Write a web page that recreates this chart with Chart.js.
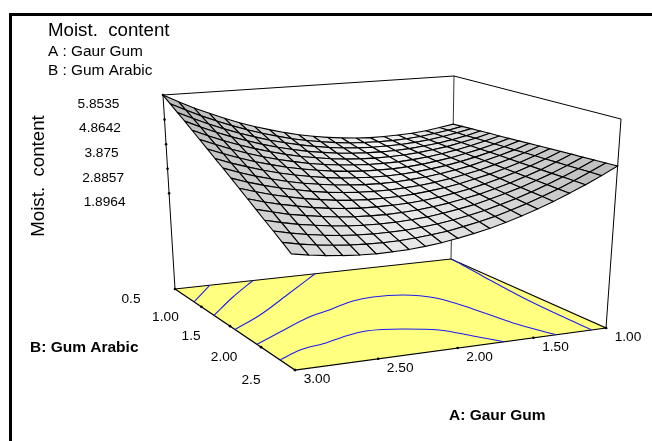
<!DOCTYPE html>
<html>
<head>
<meta charset="utf-8">
<title>Moist. content</title>
<script src="https://cdn.jsdelivr.net/npm/chart.js@4"></script>
<style>
  html, body { margin: 0; padding: 0; background: #fff; }
  #wrap { position: relative; width: 652px; height: 441px; overflow: hidden; }
  #frame { position: absolute; left: 9px; top: 13px; right: -9px; bottom: -9px; border-left: 3px solid #000; border-top: 3px solid #000; }
  canvas { position: absolute; left: 0; top: 0; }
</style>
</head>
<body>
<div id="wrap">
  <canvas id="chart" width="652" height="441"></canvas>
  <div id="frame"></div>
</div>
<script>
// Data
const gaurGum = [3.0, 2.9, 2.8, 2.7, 2.6, 2.5, 2.4, 2.3, 2.2, 2.1, 2.0, 1.9, 1.8, 1.7, 1.6, 1.5, 1.4, 1.3, 1.2, 1.1, 1.0];
const gumArabic = [0.5, 0.625, 0.75, 0.875, 1.0, 1.125, 1.25, 1.375, 1.5, 1.625, 1.75, 1.875, 2.0, 2.125, 2.25, 2.375, 2.5];

const gaurGumTicks = ["3.00", "2.50", "2.00", "1.50", "1.00"];
const gumArabicTicks = ["0.5", "1.00", "1.5", "2.00", "2.5"];
const moistTicks = ["5.8535", "4.8642", "3.875", "2.8857", "1.8964"];

const moistFloor = -1.951;
const moistTop = 5.8535;

// one row per Gaur Gum value, one column per Gum Arabic value
const moistGrid = [
  [5.85,5.61,5.37,5.14,4.90,4.66,4.42,4.18,3.95,3.71,3.47,3.23,2.99,2.75,2.52,2.28,2.04],
  [5.54,5.32,5.09,4.87,4.64,4.42,4.19,3.96,3.74,3.51,3.29,3.06,2.84,2.61,2.39,2.16,1.94],
  [5.25,5.04,4.83,4.62,4.40,4.19,3.98,3.77,3.55,3.34,3.13,2.92,2.70,2.49,2.28,2.07,1.86],
  [4.99,4.79,4.59,4.39,4.19,3.99,3.79,3.59,3.39,3.19,3.00,2.80,2.60,2.40,2.20,2.00,1.80],
  [4.75,4.56,4.37,4.19,4.00,3.81,3.63,3.44,3.25,3.07,2.88,2.69,2.51,2.32,2.13,1.95,1.76],
  [4.52,4.35,4.18,4.00,3.83,3.65,3.48,3.31,3.13,2.96,2.79,2.61,2.44,2.26,2.09,1.92,1.74],
  [4.32,4.16,4.00,3.84,3.68,3.52,3.36,3.20,3.04,2.87,2.71,2.55,2.39,2.23,2.07,1.91,1.75],
  [4.15,4.00,3.85,3.70,3.55,3.40,3.26,3.11,2.96,2.81,2.66,2.51,2.37,2.22,2.07,1.92,1.77],
  [3.99,3.85,3.72,3.58,3.45,3.31,3.18,3.04,2.91,2.77,2.63,2.50,2.36,2.23,2.09,1.96,1.82],
  [3.85,3.73,3.61,3.49,3.36,3.24,3.12,3.00,2.87,2.75,2.63,2.51,2.38,2.26,2.14,2.02,1.89],
  [3.74,3.63,3.52,3.41,3.30,3.19,3.08,2.97,2.86,2.75,2.64,2.53,2.42,2.31,2.20,2.09,1.99],
  [3.65,3.55,3.45,3.36,3.26,3.16,3.07,2.97,2.87,2.78,2.68,2.58,2.49,2.39,2.29,2.20,2.10],
  [3.58,3.49,3.41,3.33,3.24,3.16,3.07,2.99,2.91,2.82,2.74,2.65,2.57,2.49,2.40,2.32,2.23],
  [3.53,3.46,3.39,3.32,3.25,3.17,3.10,3.03,2.96,2.89,2.82,2.75,2.68,2.60,2.53,2.46,2.39],
  [3.50,3.45,3.39,3.33,3.27,3.21,3.15,3.10,3.04,2.98,2.92,2.86,2.80,2.75,2.69,2.63,2.57],
  [3.50,3.45,3.41,3.36,3.32,3.27,3.23,3.18,3.14,3.09,3.05,3.00,2.95,2.91,2.86,2.82,2.77],
  [3.52,3.48,3.45,3.42,3.39,3.35,3.32,3.29,3.25,3.22,3.19,3.16,3.12,3.09,3.06,3.03,2.99],
  [3.55,3.53,3.51,3.49,3.47,3.46,3.44,3.42,3.40,3.38,3.36,3.34,3.32,3.30,3.28,3.26,3.24],
  [3.61,3.61,3.60,3.59,3.59,3.58,3.57,3.57,3.56,3.55,3.54,3.54,3.53,3.52,3.52,3.51,3.50],
  [3.70,3.70,3.71,3.71,3.72,3.73,3.73,3.74,3.74,3.75,3.76,3.76,3.77,3.77,3.78,3.79,3.79],
  [3.80,3.82,3.84,3.86,3.88,3.89,3.91,3.93,3.95,3.97,3.99,4.01,4.03,4.04,4.06,4.08,4.10]
];

// contour lines on the floor, [Gaur Gum, Gum Arabic]
const contourA = [[3.0, 0.864], [2.764, 0.5]];
const contourB = [[3.0, 1.224], [2.738, 0.853], [2.466, 0.5]];
const contourC = [[3.0, 1.583], [2.746, 1.337], [2.411, 0.951], [2.024, 0.5]];
const contourD = [[3.0, 1.936], [2.782, 1.748], [2.516, 1.524], [2.346, 1.422], [2.095, 1.269], [1.939, 1.231], [1.744, 1.266], [1.59, 1.426], [1.507, 1.767], [1.445, 2.161], [1.346, 2.5]];
const contourE = [[3.0, 2.284], [2.823, 2.149], [2.633, 2.08], [2.469, 1.993], [2.318, 1.945], [2.102, 1.999], [1.919, 2.11], [1.8, 2.313], [1.696, 2.5]];
const contourF = [[1.0, 0.52], [1.01, 0.67], [1.04, 1.03], [1.09, 1.74], [1.1, 2.2], [1.1, 2.5]];

// Camera: where the corners of the box land on the page
const floorCorners = [[175, 289], [451, 259], [606, 328], [295, 370]];
const topCorners = [[163, 95], [454, 76], [621, 119], [288, 143]];

function homography(q) {
  const dx1 = q[1][0] - q[2][0], dx2 = q[3][0] - q[2][0], dx3 = q[0][0] - q[1][0] + q[2][0] - q[3][0];
  const dy1 = q[1][1] - q[2][1], dy2 = q[3][1] - q[2][1], dy3 = q[0][1] - q[1][1] + q[2][1] - q[3][1];
  const den = dx1 * dy2 - dx2 * dy1;
  const g = (dx3 * dy2 - dx2 * dy3) / den;
  const h = (dx1 * dy3 - dx3 * dy1) / den;
  return (s, t) => {
    const w = g * s + h * t + 1;
    return [
      ((q[1][0] - q[0][0] + g * q[1][0]) * s + (q[3][0] - q[0][0] + h * q[3][0]) * t + q[0][0]) / w,
      ((q[1][1] - q[0][1] + g * q[1][1]) * s + (q[3][1] - q[0][1] + h * q[3][1]) * t + q[0][1]) / w,
    ];
  };
}
const floorMap = homography(floorCorners);
const topMap = homography(topCorners);

// Gaur Gum, Gum Arabic, moisture -> page point
function project(a, b, z) {
  const s = (3 - a) / 2;
  const t = (b - 0.5) / 2;
  const w = (z - moistFloor) / (moistTop - moistFloor);
  const f = floorMap(s, t);
  const c = topMap(s, t);
  return { x: f[0] + (c[0] - f[0]) * w, y: f[1] + (c[1] - f[1]) * w };
}

function lineSet(points, color, width, extra) {
  return Object.assign({
    data: points,
    showLine: true,
    borderColor: color,
    borderWidth: width,
    pointRadius: 0,
    fill: false,
    tension: 0,
  }, extra || {});
}

// Gray of a cell from how steep it is
function cellGray(i, j) {
  const perRow = (gaurGum.length - 1) / 2;
  const perCol = (gumArabic.length - 1) / 2;
  const dzds = ((moistGrid[i + 1][j] + moistGrid[i + 1][j + 1]) - (moistGrid[i][j] + moistGrid[i][j + 1])) * perRow;
  const dzdt = ((moistGrid[i][j + 1] + moistGrid[i + 1][j + 1]) - (moistGrid[i][j] + moistGrid[i + 1][j])) * perCol;
  const g = Math.round(245 - 9 * Math.hypot(dzds, dzdt + 1));
  return `rgb(${g},${g},${g})`;
}

function surfaceSets() {
  const sets = [];
  for (let j = gumArabic.length - 2; j >= 0; j--) {
    for (let i = 0; i < gaurGum.length - 1; i++) {
      const corners = [[i, j], [i + 1, j], [i + 1, j + 1], [i, j + 1], [i, j]];
      sets.push(lineSet(
        corners.map(([r, c]) => project(gaurGum[r], gumArabic[c], moistGrid[r][c])),
        "#000", 1.1,
        { fill: "shape", backgroundColor: cellGray(i, j) }
      ));
    }
  }
  return sets;
}

function contourSets() {
  return [contourA, contourB, contourC, contourD, contourE, contourF].map((c) =>
    lineSet(c.map(([a, b]) => project(a, b, moistFloor)), "#1c1cf0", 1.1, { cubicInterpolationMode: "monotone" })
  );
}

function boxSets() {
  const low = moistFloor, high = moistTop;
  const floor = [[3, 0.5], [1, 0.5], [1, 2.5], [3, 2.5], [3, 0.5]].map(([a, b]) => project(a, b, low));
  return [
    lineSet(floor, "#000", 1.2, { fill: "shape", backgroundColor: "#ffff80" }),
    lineSet([project(3, 0.5, low), project(3, 0.5, high), project(1, 0.5, high), project(1, 2.5, high), project(1, 2.5, low)], "#000", 1),
    lineSet([project(1, 0.5, low), project(1, 0.5, high)], "#333", 1),
  ];
}

function tickSet() {
  const pts = [];
  gaurGumTicks.forEach((l) => pts.push(project(+l, 2.5, moistFloor)));
  gumArabicTicks.forEach((l) => pts.push(project(3, +l, moistFloor)));
  moistTicks.forEach((l) => pts.push(project(3, 0.5, +l)));
  return { data: pts, showLine: false, pointRadius: 1.3, pointBackgroundColor: "#000", pointBorderWidth: 0 };
}

// Text of the plot: titles and tick labels
const gumArabicLabelShift = [-44, -36, -39, -37, -44];
const textPlugin = {
  id: "plotText",
  afterDraw(chart) {
    const ctx = chart.ctx;
    const put = (text, x, y, font, align) => {
      ctx.font = font;
      ctx.textAlign = align || "center";
      ctx.fillText(text, x, y);
    };
    ctx.save();
    ctx.fillStyle = "#000";
    ctx.textBaseline = "middle";

    put("Moist.  content", 48, 31, "18.7px 'Liberation Sans'", "left");
    put("A : Gaur Gum", 48, 52, "15.4px 'Liberation Sans'", "left");
    put("B : Gum Arabic", 48, 71, "15.4px 'Liberation Sans'", "left");

    const tickFont = "13.7px 'Liberation Sans'";
    moistTicks.forEach((l) => {
      const p = project(3, 0.5, +l);
      put(l, p.x - 64.5, p.y + 9, tickFont);
    });
    gumArabicTicks.forEach((l, i) => {
      const p = project(3, +l, moistFloor);
      put(l, p.x + gumArabicLabelShift[i], p.y + 10, tickFont);
    });
    gaurGumTicks.forEach((l) => {
      const p = project(+l, 2.5, moistFloor);
      put(l, p.x + 22, p.y + 9, tickFont);
    });

    put("B: Gum Arabic", 30, 348, "bold 15.5px 'Liberation Sans'", "left");
    put("A: Gaur Gum", 449, 416, "bold 15.5px 'Liberation Sans'", "left");

    ctx.translate(38.5, 176);
    ctx.rotate(-Math.PI / 2);
    put("Moist.  content", 0, 0, "18.7px 'Liberation Sans'");
    ctx.restore();
  },
};

// Inicializa o grafico (first dataset is painted last, so front cells go first)
new Chart(document.getElementById("chart").getContext("2d"), {
  type: "scatter",
  data: {
    datasets: [...surfaceSets(), tickSet(), ...contourSets(), ...boxSets()],
  },
  options: {
    responsive: false,
    animation: false,
    events: [],
    layout: { padding: 0, autoPadding: false },
    clip: false,
    scales: {
      x: { type: "linear", min: 0, max: 652, display: false },
      y: { type: "linear", min: 0, max: 441, reverse: true, display: false },
    },
    plugins: {
      legend: { display: false },
      tooltip: { enabled: false },
    },
  },
  plugins: [textPlugin],
});
</script>
</body>
</html>
